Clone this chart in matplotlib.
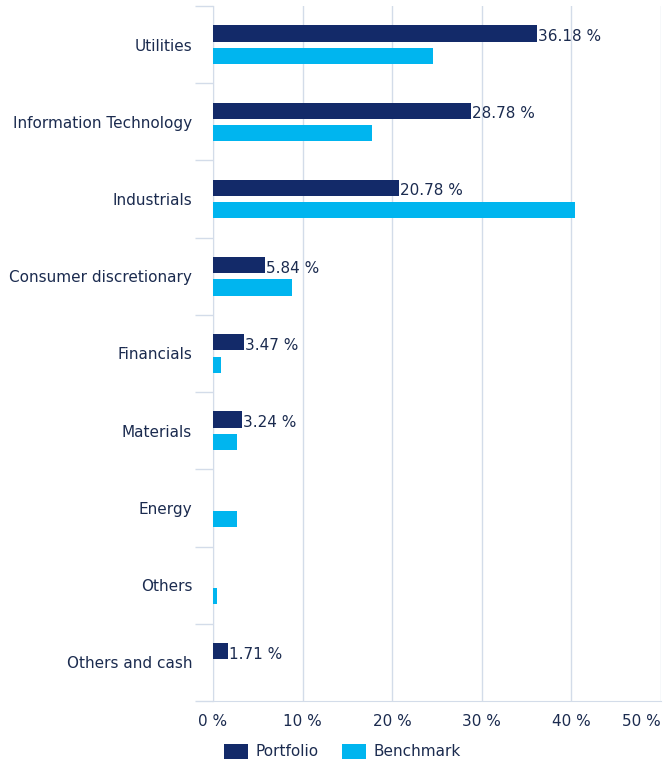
import numpy as np
import matplotlib.pyplot as plt

categories = ['Utilities', 'Information Technology', 'Industrials', 'Consumer discretionary',
              'Financials', 'Materials', 'Energy', 'Others', 'Others and cash']
portfolio = [36.18, 28.78, 20.78, 5.84, 3.47, 3.24, np.nan, np.nan, 1.71]
benchmark = [24.5, 17.8, 40.4, 8.8, 0.9, 2.7, 2.7, 0.45, np.nan]
xticks = [0, 10, 20, 30, 40, 50]

navy = '#132a69'
cyan = '#00b5ef'
textc = '#1b2b4f'
gridc = '#d3dce9'

fig = plt.figure(figsize=(6.64, 7.67), dpi=100)
ax = fig.add_axes([213 / 664, 1 - 701 / 767, (661 - 213) / 664, 695 / 767])

y = np.arange(len(categories))
h = 0.21
off = 0.145
ax.barh(y - off, portfolio, height=h, color=navy, label='Portfolio', zorder=3)
ax.barh(y + off, benchmark, height=h, color=cyan, label='Benchmark', zorder=3)

for yi, v in zip(y, portfolio):
    if not np.isnan(v):
        ax.text(v + 0.1, yi - off + 0.04, f'{v:.2f} %', va='center', ha='left',
                color=textc, fontsize=11, zorder=4)

ax.set_xlim(0, 50)
ax.set_ylim(len(categories) - 0.5, -0.5)
ax.set_xticks(xticks)
ax.set_xticklabels([f'{t} %' for t in xticks])
ax.get_xticklabels()[-1].set_horizontalalignment('right')
ax.set_yticks(y)
ax.set_yticklabels(categories)
ax.set_yticks(np.arange(len(categories) + 1) - 0.5, minor=True)
ax.tick_params(axis='y', which='major', length=0, pad=15, labelsize=11, labelcolor=textc)
ax.tick_params(axis='y', which='minor', length=13, color=gridc, width=1)
ax.tick_params(axis='x', length=0, pad=9, labelsize=11, labelcolor=textc)
ax.grid(axis='x', color=gridc, linewidth=1, zorder=0)
for s in ['top', 'right']:
    ax.spines[s].set_visible(False)
for s in ['left', 'bottom']:
    ax.spines[s].set_color(gridc)

fig.legend(loc='lower left', bbox_to_anchor=(210 / 664, -0.008), ncol=2, frameon=False,
           fontsize=11, labelcolor=textc, handlelength=1.6, handleheight=1.1,
           columnspacing=1.5, handletextpad=0.5)

fig.savefig('out.png', dpi=100)
